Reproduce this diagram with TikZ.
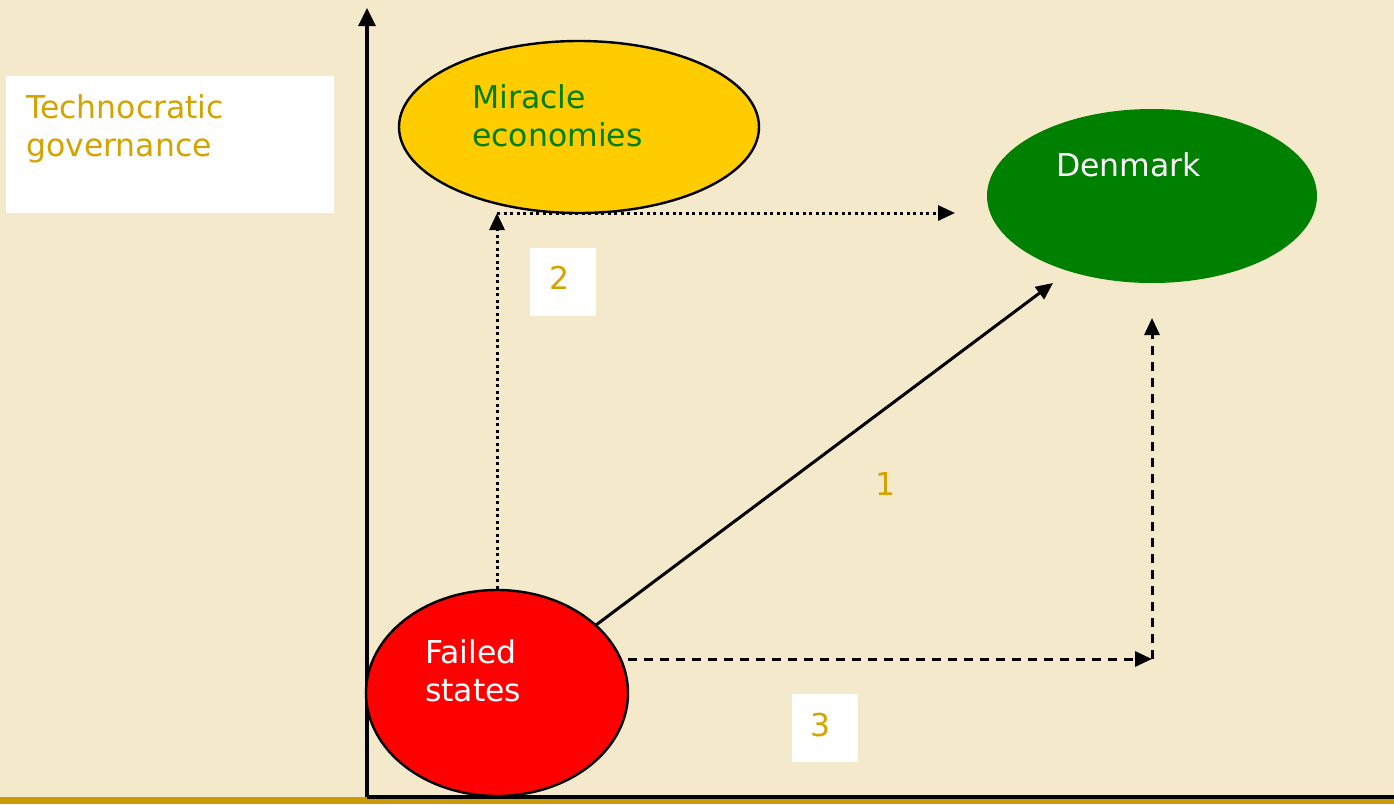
\documentclass[tikz,border=0pt]{standalone}
\usepackage{fontspec}
\setmainfont{DejaVu Sans}
\usetikzlibrary{shapes.geometric,arrows.meta}
\definecolor{paper}{HTML}{F5E9CC}
\definecolor{gold}{HTML}{D4A300}
\definecolor{barcol}{HTML}{C99B06}
\definecolor{leafgreen}{HTML}{008000}
\definecolor{sun}{HTML}{FFCC00}
\begin{document}
\begin{tikzpicture}[x=1pt,y=-1pt,
  lbl/.style={font=\fontsize{31.5}{38}\selectfont, inner sep=0pt, anchor=north west, align=left},
  numbox/.style={fill=white, minimum width=66pt, minimum height=68pt, inner sep=0pt,
                 text=gold, font=\fontsize{31.5}{38}\selectfont},
  blob/.style={ellipse, inner sep=0pt},
  tip/.style={-{Triangle[length=17pt,width=15pt]}},
  link/.style={line width=3pt, tip},
  axis/.style={line width=3.2pt}]
  \useasboundingbox (0,0) rectangle (1394,804);
  \fill[paper] (0,0) rectangle (1394,804);
  \fill[barcol] (0,797) rectangle (1394,804);

  % axes
  \coordinate (origin) at (367,797);
  \coordinate (ytop) at (367,8);
  \coordinate (xend) at (1394,797);
  \draw[axis, -{Triangle[length=18pt,width=17pt]}] (origin) -- (ytop);
  \draw[axis] (origin) -- (xend);

  % axis caption
  \node[fill=white, minimum width=328pt, minimum height=137pt, inner sep=0pt, anchor=north west]
    (capbox) at (6,76) {};
  \node[lbl, text=gold] (captxt) at (26,94) {Technocratic\\governance};

  % regions
  \node[blob, draw=black, line width=2.4pt, fill=sun, minimum width=360pt, minimum height=172pt]
    (mir) at (579,127) {};
  \node[lbl, text=leafgreen] (mirtxt) at (472,84) {Miracle\\economies};

  \node[blob, fill=leafgreen, minimum width=330pt, minimum height=174pt]
    (den) at (1152,196) {};
  \node[lbl, text=white] (dentxt) at (1056,152) {Denmark};

  \node[blob, draw=black, line width=2.4pt, fill=red, minimum width=262pt, minimum height=206pt]
    (fail) at (497,693) {};
  \node[lbl, text=white] (failtxt) at (425,639) {Failed\\states};

  % path 2: dotted, up then right
  \coordinate (c2) at (497,213);
  \coordinate (e2) at (955,213);
  \draw[link, dash pattern=on 3pt off 3.5pt] (fail.north) -- (c2);
  \draw[link, dash pattern=on 3pt off 3.5pt] (c2) -- (e2);
  \node[numbox] (n2) at (563,282) {};
  \node[text=gold, font=\fontsize{31.5}{38}\selectfont, inner sep=0pt] (n2txt) at (560,278) {2};

  % path 1: solid diagonal
  \coordinate (s1) at (596,625);
  \coordinate (e1) at (1053,283);
  \draw[link] (s1) -- (e1);
  \node[text=gold, font=\fontsize{31.5}{38}\selectfont, inner sep=0pt] (n1) at (886,484) {1};

  % path 3: dashed, right then up
  \coordinate (s3) at (628,659);
  \coordinate (c3) at (1152,659);
  \coordinate (e3) at (1152,318);
  \draw[link, dash pattern=on 9pt off 7pt] (s3) -- (c3);
  \draw[link, dash pattern=on 9pt off 7pt] (c3) -- (e3);
  \node[numbox] (n3) at (825,728) {};
  \node[text=gold, font=\fontsize{31.5}{38}\selectfont, inner sep=0pt] (n3txt) at (821,725) {3};
\end{tikzpicture}
\end{document}
